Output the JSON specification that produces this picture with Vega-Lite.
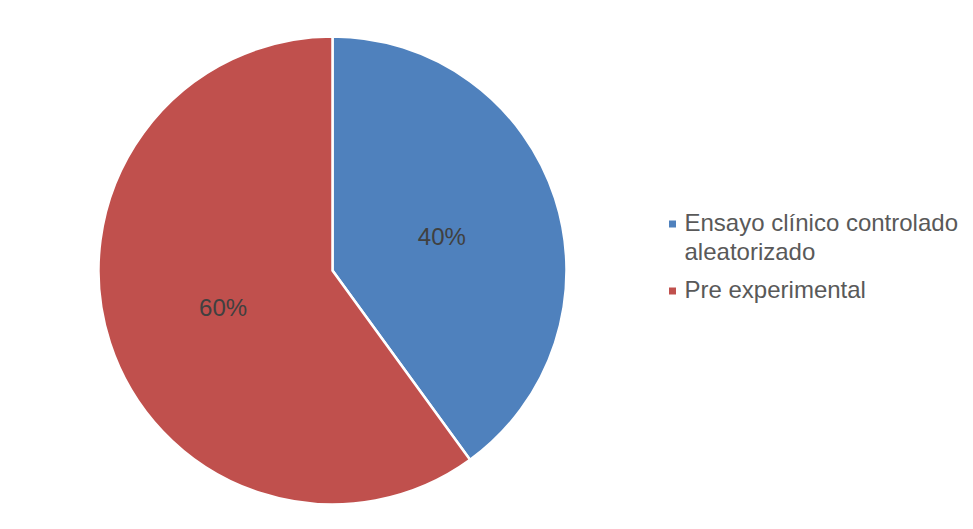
{
  "$schema": "https://vega.github.io/schema/vega-lite/v6.json",
  "width": 467,
  "height": 467,
  "padding": {"left": 93, "top": 31, "right": 0, "bottom": 0},
  "background": "white",
  "config": {
    "view": {"stroke": null},
    "style": {"guide-label": {"lineHeight": 28.5, "dy": -12}}
  },
  "data": {
    "values": [
      {"tipo": "Ensayo clínico controlado aleatorizado", "pct": 40, "label": "40%"},
      {"tipo": "Pre experimental", "pct": 60, "label": "60%"}
    ]
  },
  "encoding": {
    "theta": {"field": "pct", "type": "quantitative", "stack": true}
  },
  "layer": [
    {
      "mark": {"type": "arc", "outerRadius": 234, "stroke": "white", "strokeWidth": 2.5},
      "encoding": {
        "color": {
          "field": "tipo",
          "type": "nominal",
          "sort": null,
          "scale": {
            "domain": ["Ensayo clínico controlado aleatorizado", "Pre experimental"],
            "range": ["#4F81BD", "#C0504D"]
          },
          "legend": {
            "title": null,
            "orient": "none",
            "legendX": 561.5,
            "legendY": 175,
            "padding": 0,
            "symbolType": "square",
            "symbolSize": 49,
            "symbolStrokeWidth": 0,
            "labelFont": "Liberation Sans",
            "labelFontSize": 24,
            "labelColor": "#595959",
            "labelOffset": 0,
            "labelLimit": 400,
            "rowPadding": 14,
            "labelExpr": "datum.label == 'Ensayo clínico controlado aleatorizado' ? ['Ensayo clínico controlado', 'aleatorizado'] : datum.label",
            "labelBaseline": "top"
          }
        }
      }
    },
    {
      "mark": {"type": "text", "radius": 115, "fontSize": 24, "font": "Liberation Sans", "dy": 3},
      "encoding": {
        "text": {"field": "label", "type": "nominal"},
        "color": {"value": "#404040"}
      }
    }
  ]
}
